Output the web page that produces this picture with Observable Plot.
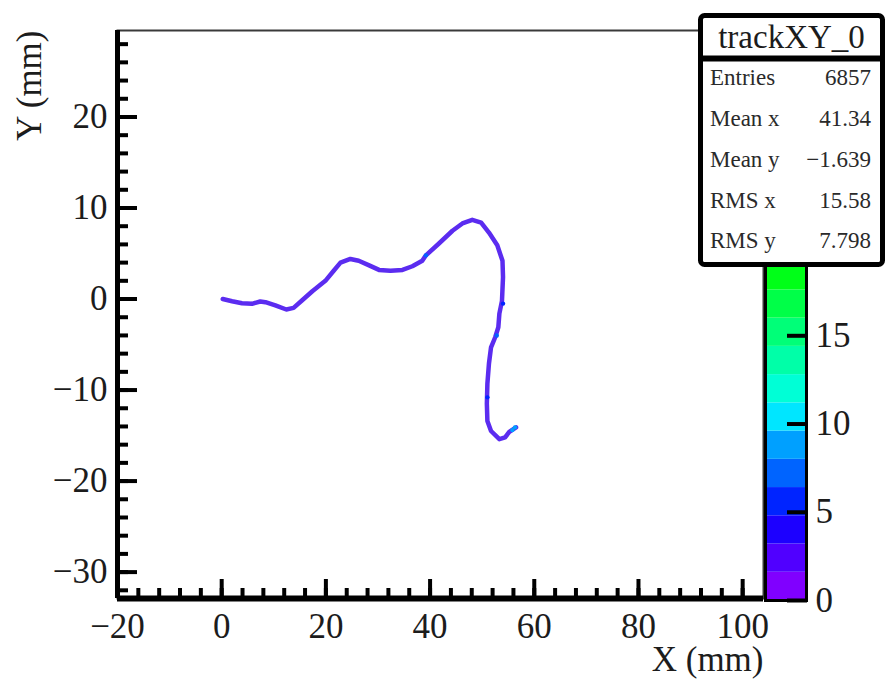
<!DOCTYPE html>
<html><head><meta charset="utf-8">
<script src="https://cdn.jsdelivr.net/npm/d3@7"></script>
<script src="https://cdn.jsdelivr.net/npm/@observablehq/plot@0.6"></script>
<style>
html,body{margin:0;padding:0;background:#fff;}
#wrap{position:relative;width:889px;height:679px;overflow:hidden;background:#fff;}
#wrap svg{position:absolute;top:0;}
</style></head><body><div id="wrap"></div>
<script>
// ---- data ----
const trackX = [0.2, 2.0, 3.9, 5.8, 7.4, 8.4, 10.3, 12.4, 13.8, 15.4, 17.4, 19.9, 21.5, 22.8, 24.7, 26.3, 28.3, 30.2, 32.4, 34.7, 36.6, 38.5, 39.2, 41.7, 44.3, 46.2, 48.1, 49.8, 51.3, 52.9, 53.9, 54.0, 53.8, 53.3, 53.1, 52.5, 51.7, 51.3, 51.0, 50.9, 51.0, 51.7, 53.3, 54.4, 55.2, 56.5];
const trackY = [0.0, -0.24, -0.46, -0.53, -0.27, -0.35, -0.7, -1.15, -0.97, -0.16, 0.86, 2.0, 3.1, 4.0, 4.4, 4.2, 3.7, 3.2, 3.1, 3.2, 3.6, 4.2, 4.8, 6.1, 7.5, 8.3, 8.7, 8.4, 7.3, 5.9, 4.2, 2.4, -0.2, -1.6, -3.1, -4.2, -5.3, -7.1, -9.3, -11.5, -13.4, -14.5, -15.4, -15.2, -14.6, -14.1];
const hotX = [39.2, 54.0, 52.8, 51.0, 56.3, 55.8];
const hotY = [4.8, -0.5, -4.0, -10.8, -14.1, -14.4];
const hotCount = [7, 6, 7, 6, 9, 8];

const xDomain = [-20, 104];
const yDomain = [-32.9, 29.5];
const zDomain = [0, 32.3];
const xMajor = [-20, 0, 20, 40, 60, 80, 100];
const yMajor = [-30, -20, -10, 0, 10, 20];
const zMajor = [0, 5, 10, 15];
const zLevels = [0, 1.6, 3.2, 4.8, 6.4, 8, 9.6, 11.2, 12.8, 14.4, 16, 17.6, 19.2, 20.8, 22.4, 24, 25.6, 27.2, 28.8, 30.4, 32.3];
const palette = ["#8000ff","#5000ff","#1c00ff","#0024ff","#0064ff","#00a0ff","#00e6ff","#00ffd6","#00ffa8","#00ff78","#00ff48","#00ff18","#30ff00","#70ff00","#b0ff00","#f0ff00","#ffc000","#ff8000","#ff4000","#ff0000"];

const histName = "trackXY_0";
const statLabels = ["Entries", "Mean x", "Mean y", "RMS x", "RMS y"];
const statValues = ["6857", "41.34", "\u22121.639", "15.58", "7.798"];
const xTitle = "X (mm)";
const yTitle = "Y (mm)";

// ---- build ----
const font = "'Liberation Serif', 'Times New Roman', serif";
const ink = "#1c1c1c";
const fmt = d => d < 0 ? "\u2212" + Math.abs(d) : String(d);
const colorOpts = {type: "threshold", domain: zLevels.slice(1, -1), range: palette};
const xMinor = d3.range(-20, 104, 4);
const yMinor = d3.range(-32, 30, 2);
const track = trackX.map((x, i) => ({x, y: trackY[i]}));
const hot = hotX.map((x, i) => ({x, y: hotY[i], c: hotCount[i]}));
const tickOpts = {strokeWidth: 4, stroke: "black", tickFormat: () => "", label: null};

const main = Plot.plot({
  width: 889, height: 679,
  marginLeft: 117, marginRight: 126, marginTop: 30, marginBottom: 81,
  x: {domain: xDomain, axis: null, label: null},
  y: {domain: yDomain, axis: null, label: null},
  color: colorOpts,
  style: {fontFamily: font, background: "transparent", color: ink},
  marks: [
    Plot.frame({stroke: "#3a3a3a", strokeWidth: 2}),
    Plot.line(track, {x: "x", y: "y", stroke: "#5b2cf0", strokeWidth: 4.5, strokeLinejoin: "round", strokeLinecap: "round"}),
    Plot.dot(hot, {x: "x", y: "y", fill: "c", r: 2.2}),
    Plot.ruleX([xDomain[0]], {stroke: "black", strokeWidth: 5}),
    Plot.ruleY([yDomain[0]], {stroke: "black", strokeWidth: 6}),
    Plot.axisX(xMinor, {anchor: "bottom", tickSize: -10, ...tickOpts}),
    Plot.axisX(xMajor, {anchor: "bottom", tickSize: -19, ...tickOpts}),
    Plot.axisY(yMinor, {anchor: "left", tickSize: -11, ...tickOpts}),
    Plot.axisY(yMajor, {anchor: "left", tickSize: -20, ...tickOpts}),
    Plot.axisX(xMajor, {anchor: "bottom", tickSize: 0, tickPadding: 15, fontSize: 35, fill: ink, tickFormat: fmt, label: null}),
    Plot.axisY(yMajor, {anchor: "left", tickSize: 0, tickPadding: 10, fontSize: 35, fill: ink, tickFormat: fmt, label: null}),
    Plot.text([xTitle], {text: d => d, frameAnchor: "bottom-right", textAnchor: "end", lineAnchor: "middle", dy: 61, fontSize: 35, fill: ink}),
    Plot.text([yTitle], {text: d => d, frameAnchor: "top-left", textAnchor: "end", lineAnchor: "middle", rotate: -90, dx: -88, dy: 0, fontSize: 35, fill: ink})
  ]
});
main.style.left = "0px";

const bands = zLevels.slice(0, -1).map((lo, i) => ({lo, hi: zLevels[i + 1]}));
const bar = Plot.plot({
  width: 149, height: 679,
  marginLeft: 25, marginRight: 83, marginTop: 30, marginBottom: 79,
  y: {domain: zDomain, axis: null, label: null},
  color: colorOpts,
  style: {fontFamily: font, background: "transparent", color: ink},
  marks: [
    Plot.rect(bands, {y1: "lo", y2: "hi", fill: d => (d.lo + d.hi) / 2}),
    Plot.frame({stroke: "black", strokeWidth: 3}),
    Plot.axisY(zMajor, {anchor: "right", tickSize: -20, ...tickOpts}),
    Plot.axisY(zMajor, {anchor: "right", tickSize: 0, tickPadding: 9, fontSize: 35, fill: ink, tickFormat: fmt, label: null})
  ]
});
bar.style.left = "740px";

const wrap = document.getElementById("wrap");
wrap.appendChild(main);
wrap.appendChild(bar);

// stats box
const svg = d3.create("svg").attr("width", 889).attr("height", 679).style("left", "0px")
  .style("font-family", font);
svg.append("rect").attr("x", 700.5).attr("y", 15.5).attr("width", 182).attr("height", 249).attr("rx", 4)
  .attr("fill", "white").attr("stroke", "black").attr("stroke-width", 5);
svg.append("line").attr("x1", 700).attr("x2", 883).attr("y1", 58.5).attr("y2", 58.5)
  .attr("stroke", "black").attr("stroke-width", 6);
svg.append("text").attr("x", 791.5).attr("y", 48).attr("text-anchor", "middle")
  .attr("font-size", 33).attr("fill", ink).text(histName);
const base = [85, 126, 167, 208, 248];
statLabels.forEach((s, i) => {
  svg.append("text").attr("x", 710).attr("y", base[i]).attr("font-size", 23).attr("fill", "#2a2a2a").text(s);
  svg.append("text").attr("x", 871).attr("y", base[i]).attr("text-anchor", "end").attr("font-size", 23).attr("fill", "#2a2a2a").text(statValues[i]);
});
wrap.appendChild(svg.node());
</script>
</body></html>
